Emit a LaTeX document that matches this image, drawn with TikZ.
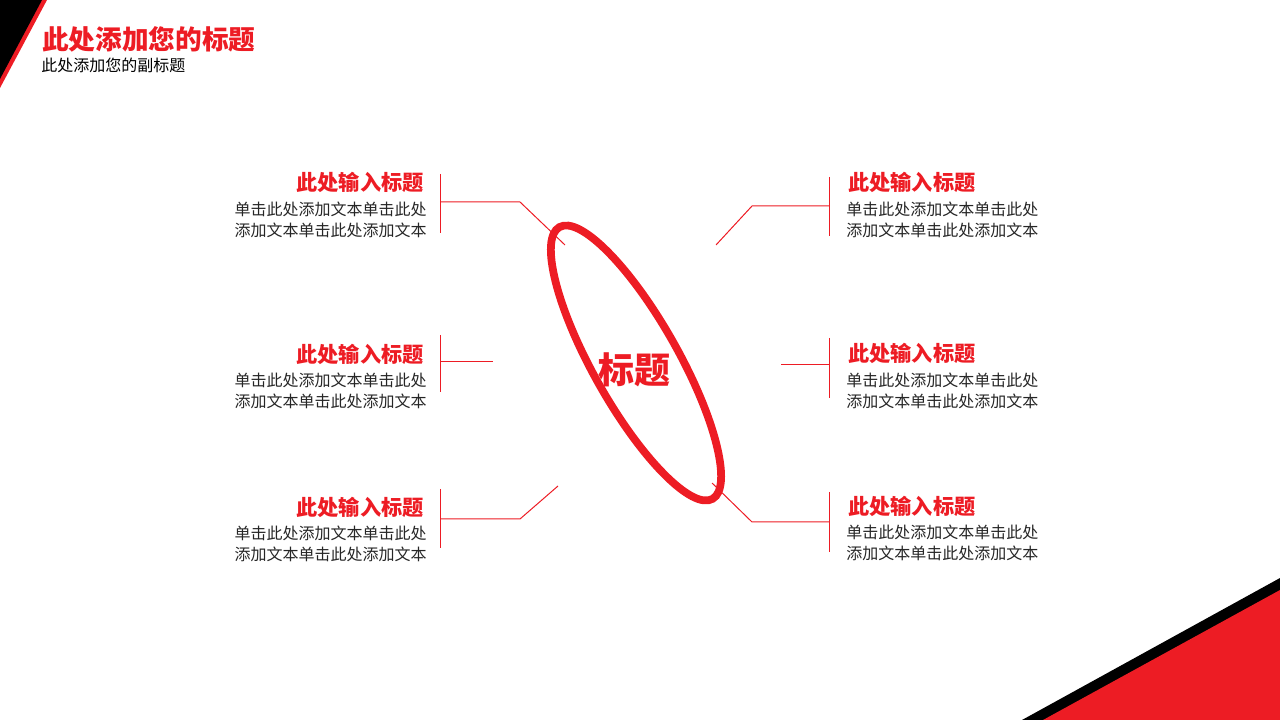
\documentclass[tikz,border=0pt]{standalone}
\usepackage{fontspec}
\setmainfont{Noto Sans CJK SC}
\usetikzlibrary{positioning}
\definecolor{hired}{HTML}{ED1C24}
\definecolor{txtgray}{HTML}{262626}

\begin{document}
\begin{tikzpicture}[x=0.75pt, y=0.75pt,
    head/.style={font=\bfseries\fontsize{15.9pt}{18pt}\selectfont, text=hired, inner sep=0pt},
    body/.style={font=\fontsize{12pt}{15.75pt}\selectfont, text=txtgray, align=left, inner sep=0pt},
    bar/.style={draw=hired, line width=0.75pt},
    link/.style={draw=hired, line width=0.75pt},
    ring/.style={draw=hired, line width=5.8pt}]
        \useasboundingbox (0,0) rectangle (1280,720);
        % corners
        \fill[hired] (0,720) -- (47,720) -- (0,632) -- cycle;
        \fill[black] (0,720) -- (42,720) -- (0,641) -- cycle;
        \fill[black] (1022,0) -- (1280,0) -- (1280,142) -- cycle;
        \fill[hired] (1043,0) -- (1280,0) -- (1280,130) -- cycle;

        \node[font=\bfseries\fontsize{20pt}{24pt}\selectfont, text=hired, anchor=west, inner sep=0pt] (title) at (42,681) {此处添加您的标题};
        \node[font=\fontsize{12pt}{14pt}\selectfont, anchor=west, inner sep=0pt] (subtitle) at (41,655) {此处添加您的副标题};

        % centre
        \coordinate (ctr) at (636,357);
        \draw[ring, rotate around={-60.6:(ctr)}] (ctr) ellipse (117pt and 32pt);
        \node[font=\bfseries\fontsize{27pt}{30pt}\selectfont, text=hired, inner sep=0pt] (main) at (634,350) {标题};

        % left side
        \node[head, anchor=east] (lh1) at (424,538) {此处输入标题};
        \node[body, anchor=east] (lb1) at (427,500) {单击此处添加文本单击此处\\添加文本单击此处添加文本};
        \node[head, anchor=east] (lh2) at (424,366) {此处输入标题};
        \node[body, anchor=east] (lb2) at (427,329) {单击此处添加文本单击此处\\添加文本单击此处添加文本};
        \node[head, anchor=east] (lh3) at (424,213) {此处输入标题};
        \node[body, anchor=east] (lb3) at (427,176) {单击此处添加文本单击此处\\添加文本单击此处添加文本};

        % right side
        \node[head, anchor=west] (rh1) at (848,538) {此处输入标题};
        \node[body, anchor=west] (rb1) at (846,500) {单击此处添加文本单击此处\\添加文本单击此处添加文本};
        \node[head, anchor=west] (rh2) at (848,367) {此处输入标题};
        \node[body, anchor=west] (rb2) at (846,329) {单击此处添加文本单击此处\\添加文本单击此处添加文本};
        \node[head, anchor=west] (rh3) at (848,214) {此处输入标题};
        \node[body, anchor=west] (rb3) at (846,177) {单击此处添加文本单击此处\\添加文本单击此处添加文本};

        % bars
        \coordinate (lt1) at (440,546); \coordinate (lm1) at (440,518); \coordinate (lo1) at (440,487);
        \coordinate (lt2) at (440,385); \coordinate (lm2) at (440,358); \coordinate (lo2) at (440,328);
        \coordinate (lt3) at (440,231); \coordinate (lm3) at (440,201); \coordinate (lo3) at (440,172);
        \coordinate (rt1) at (829,543); \coordinate (rm1) at (829,514); \coordinate (ro1) at (829,484);
        \coordinate (rt2) at (829,382); \coordinate (rm2) at (829,355); \coordinate (ro2) at (829,322);
        \coordinate (rt3) at (829,228); \coordinate (rm3) at (829,198); \coordinate (ro3) at (829,168);
        \foreach \s in {l,r} {
            \foreach \i in {1,2,3} {
                \draw[bar] (\s t\i) -- (\s o\i);
            }
        }

        % links
        \coordinate (le1) at (565,475); \coordinate (le2) at (493,358); \coordinate (le3) at (558,234);
        \coordinate (re1) at (716,475); \coordinate (re2) at (781,355); \coordinate (re3) at (712,237);
        \draw[link] (lm1) -- ++(80,0) -- (le1);
        \draw[link] (lm2) -- (le2);
        \draw[link] (lm3) -- ++(80,0) -- (le3);
        \draw[link] (rm1) -- ++(-77,0) -- (re1);
        \draw[link] (rm2) -- (re2);
        \draw[link] (rm3) -- ++(-77,0) -- (re3);
    \end{tikzpicture}
\end{document}
